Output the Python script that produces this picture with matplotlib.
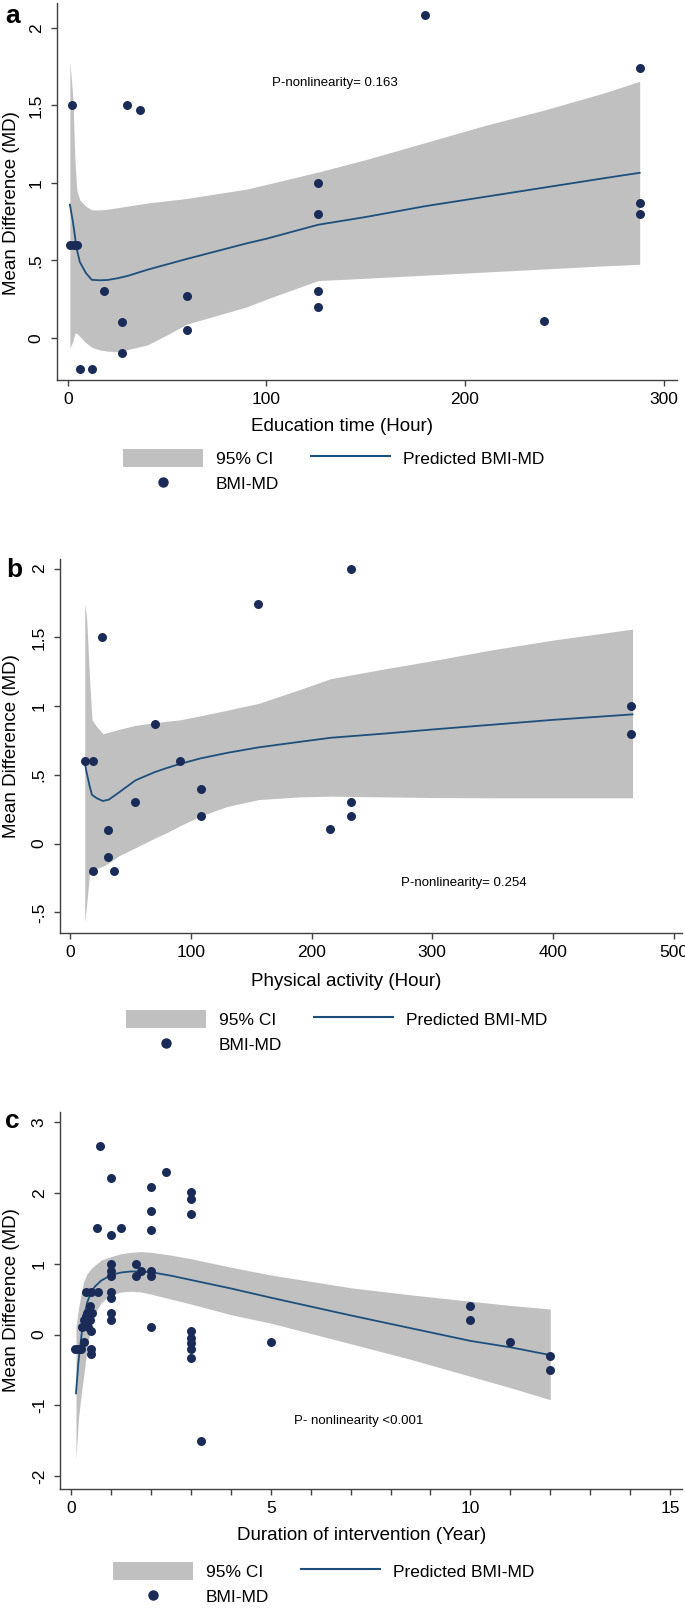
import matplotlib
matplotlib.use("Agg")
import matplotlib.pyplot as plt
from matplotlib.patches import Patch
from matplotlib.lines import Line2D

plt.rcParams['font.family'] = ['Liberation Sans', 'DejaVu Sans']

# ---------------- data ----------------
# Panel a: education time
a_x = [1, 3, 4.5, 2, 6, 12, 18, 27, 27, 30, 36.5, 60, 60, 126, 126, 126, 126, 180, 240, 288, 288, 288]
a_y = [0.6, 0.6, 0.6, 1.5, -0.2, -0.2, 0.3, 0.1, -0.1, 1.5, 1.47, 0.27, 0.05, 1.0, 0.8, 0.3, 0.2, 2.08, 0.11, 1.74, 0.87, 0.8]
a_cx = [1, 2.5, 3.5, 4.5, 6, 9, 12, 16, 20, 25, 30, 40, 50, 60, 90, 100, 126, 150, 180, 210, 240, 270, 288]
a_pred = [0.86, 0.75, 0.66, 0.57, 0.49, 0.42, 0.375, 0.372, 0.374, 0.385, 0.40, 0.44, 0.475, 0.51, 0.61, 0.64, 0.73, 0.78, 0.85, 0.91, 0.97, 1.03, 1.065]
a_hi = [1.78, 1.55, 1.15, 0.95, 0.89, 0.85, 0.826, 0.826, 0.83, 0.84, 0.85, 0.87, 0.885, 0.90, 0.96, 0.99, 1.07, 1.15, 1.26, 1.37, 1.47, 1.58, 1.655]
a_lo = [-0.066, -0.02, 0.03, 0.03, 0.01, -0.03, -0.06, -0.077, -0.085, -0.088, -0.075, -0.045, 0.02, 0.09, 0.20, 0.25, 0.37, 0.385, 0.405, 0.425, 0.445, 0.465, 0.475]
a_yticks = [0, 0.5, 1, 1.5, 2]
a_ylabels = ['0', '.5', '1', '1.5', '2']
a_xticks = [0, 100, 200, 300]

# Panel b: physical activity
b_x = [12, 19, 26.5, 19, 31.5, 31.5, 36, 54, 70, 91, 108, 108, 156, 215, 233, 233, 233, 465, 465]
b_y = [0.6, 0.6, 1.5, -0.2, 0.1, -0.1, -0.2, 0.3, 0.87, 0.6, 0.4, 0.2, 1.74, 0.11, 2.0, 0.3, 0.2, 1.0, 0.8]
b_cx = [12, 13.5, 16, 18, 22, 27, 32, 40, 54, 70, 80, 91, 108, 130, 156, 190, 216, 260, 300, 350, 400, 466]
b_pred = [0.59, 0.52, 0.42, 0.355, 0.33, 0.31, 0.32, 0.37, 0.46, 0.52, 0.55, 0.58, 0.62, 0.66, 0.70, 0.74, 0.77, 0.80, 0.83, 0.865, 0.90, 0.94]
b_hi = [1.74, 1.65, 1.20, 0.90, 0.85, 0.80, 0.81, 0.83, 0.86, 0.88, 0.89, 0.90, 0.93, 0.97, 1.02, 1.12, 1.20, 1.27, 1.33, 1.41, 1.48, 1.56]
b_lo = [-0.57, -0.45, -0.22, -0.19, -0.18, -0.165, -0.14, -0.09, -0.03, 0.04, 0.08, 0.13, 0.20, 0.27, 0.32, 0.34, 0.345, 0.34, 0.335, 0.333, 0.333, 0.333]
b_yticks = [-0.5, 0, 0.5, 1, 1.5, 2]
b_ylabels = ['-.5', '0', '.5', '1', '1.5', '2']
b_xticks = [0, 100, 200, 300, 400, 500]

# Panel c: duration of intervention
c_x = [0.1, 0.17, 0.25, 0.33, 0.28, 0.43, 0.31, 0.47, 0.39, 0.52, 0.36, 0.49, 0.49, 0.49, 0.475,
       0.38, 0.5, 0.67, 0.65, 0.73, 0.99, 0.99, 1.25,
       1.0, 1.0, 1.0, 1.0, 1.0, 1.0, 1.0,
       1.63, 1.63, 1.75,
       2.0, 2.0, 2.0, 2.0, 2.0, 2.0,
       2.38,
       3.0, 3.0, 3.0, 3.0, 3.0, 3.0, 3.0, 3.0,
       3.24, 5.0, 10.0, 10.0, 11.0, 12.0, 12.0]
c_y = [-0.2, -0.2, -0.2, -0.1, 0.11, 0.11, 0.21, 0.21, 0.30, 0.30, 0.26, 0.05, -0.2, -0.27, 0.4,
       0.6, 0.6, 0.6, 1.51, 2.66, 2.21, 1.40, 1.51,
       1.0, 0.89, 0.82, 0.6, 0.51, 0.31, 0.21,
       1.0, 0.82, 0.9,
       2.08, 1.75, 1.48, 0.9, 0.82, 0.11,
       2.30,
       2.01, 1.91, 1.70, 0.05, -0.05, -0.12, -0.2, -0.33,
       -1.5, -0.1, 0.4, 0.2, -0.1, -0.3, -0.5]
c_cx = [0.12, 0.18, 0.25, 0.31, 0.4, 0.5, 0.6, 0.75, 1.0, 1.25, 1.5, 1.75, 2.0, 2.5, 3.0, 4.0, 5.0, 7.0, 8.5, 10.0, 11.0, 12.0]
c_pred = [-0.83, -0.4, -0.05, 0.22, 0.45, 0.6, 0.68, 0.76, 0.84, 0.875, 0.89, 0.89, 0.88, 0.83, 0.77, 0.65, 0.52, 0.27, 0.09, -0.09, -0.18, -0.29]
c_hi = [0.1, 0.35, 0.58, 0.74, 0.86, 0.93, 0.98, 1.05, 1.10, 1.14, 1.16, 1.17, 1.16, 1.12, 1.07, 0.95, 0.84, 0.66, 0.56, 0.47, 0.41, 0.36]
c_lo = [-1.76, -1.2, -0.85, -0.6, -0.2, 0.15, 0.3, 0.45, 0.56, 0.60, 0.61, 0.60, 0.57, 0.50, 0.43, 0.28, 0.16, -0.13, -0.35, -0.59, -0.75, -0.92]
c_yticks = [-2, -1, 0, 1, 2, 3]
c_ylabels = ['-2', '-1', '0', '1', '2', '3']
c_xticks = [0, 5, 10, 15]
c_minor = [1, 2, 3, 4, 6, 7, 8, 9, 11, 12, 13, 14]

# ---------------- styling ----------------
W, H = 685, 1613
BAND = '#c0c0c0'
LINE = '#1d4f7c'
DOT = '#1a2b57'
SPINE = '#404040'

fig = plt.figure(figsize=(W / 100, H / 100), dpi=100)


def make_axes(left, right, top, bottom):
    return fig.add_axes([left / W, 1 - bottom / H, (right - left) / W, (bottom - top) / H])


def style(ax, xticks, yticks, ylabels, xlim, ylim):
    for s in ['top', 'right']:
        ax.spines[s].set_visible(False)
    for s in ['left', 'bottom']:
        ax.spines[s].set_color(SPINE)
        ax.spines[s].set_linewidth(1.0)
    ax.set_xlim(*xlim)
    ax.set_ylim(*ylim)
    ax.set_xticks(xticks)
    ax.set_yticks(yticks)
    ax.set_yticklabels(ylabels)
    ax.tick_params(axis='both', colors=SPINE, labelcolor='black', length=4.5, width=1.0,
                   labelsize=12.5)
    ax.tick_params(axis='x', pad=4)
    ax.tick_params(axis='y', pad=5, labelrotation=90)
    for lbl in ax.get_yticklabels():
        lbl.set_verticalalignment('center')


def draw(ax, px, py, cx, pred, lo, hi):
    ax.fill_between(cx, lo, hi, color=BAND, lw=0, zorder=1)
    ax.plot(cx, pred, color=LINE, lw=1.3, zorder=2)
    ax.scatter(px, py, s=42, color=DOT, zorder=3, linewidths=0)


def legend(ax, x, y):
    h_ci = Patch(facecolor=BAND, edgecolor='none')
    h_dot = Line2D([], [], ls='none', marker='o', markersize=6.5, color=DOT)
    h_line = Line2D([], [], color=LINE, lw=1.5)
    ax.legend([h_ci, h_dot, h_line], ['95% CI', 'BMI-MD', 'Predicted BMI-MD'],
              ncol=2, loc='upper left', bbox_to_anchor=(x / W, 1 - y / H),
              bbox_transform=fig.transFigure, frameon=False, fontsize=12.5,
              borderpad=0, borderaxespad=0, handlelength=4.6, handleheight=1.2,
              handletextpad=0.75, columnspacing=1.8, labelspacing=0.43)


# Panel a
axa = make_axes(57, 677, 3, 380)
draw(axa, a_x, a_y, a_cx, a_pred, a_lo, a_hi)
style(axa, a_xticks, a_yticks, a_ylabels, (-5.5, 306.8), (-0.271, 2.16))
axa.set_xlabel('Education time (Hour)', fontsize=13.5)
axa.xaxis.set_label_coords(0.46, -0.10)
axa.set_ylabel('Mean Difference (MD)', fontsize=13.5)
axa.yaxis.set_label_coords(-0.06, 0.47)
axa.text(103, 1.645, 'P-nonlinearity= 0.163', fontsize=9.5, va='center', ha='left')
legend(axa, 123, 449)
fig.text(5 / W, 1 - 23 / H, 'a', fontsize=19, fontweight='bold', va='baseline')

# Panel b
axb = make_axes(60, 682, 559, 933)
draw(axb, b_x, b_y, b_cx, b_pred, b_lo, b_hi)
style(axb, b_xticks, b_yticks, b_ylabels, (-8.5, 507), (-0.65, 2.07))
axb.set_xlabel('Physical activity (Hour)', fontsize=13.5)
axb.xaxis.set_label_coords(0.4606, -0.107)
axb.set_ylabel('Mean Difference (MD)', fontsize=13.5)
axb.yaxis.set_label_coords(-0.065, 0.5)
axb.text(274, -0.284, 'P-nonlinearity= 0.254', fontsize=9.5, va='center', ha='left')
legend(axb, 126, 1010)
fig.text(6 / W, 1 - 577 / H, 'b', fontsize=19, fontweight='bold', va='baseline')

# Panel c
axc = make_axes(60, 682, 1112, 1489)
draw(axc, c_x, c_y, c_cx, c_pred, c_lo, c_hi)
style(axc, c_xticks, c_yticks, c_ylabels, (-0.28, 15.3), (-2.18, 3.14))
axc.set_xticks(c_minor, minor=True)
axc.tick_params(axis='x', which='minor', length=4.5, width=1.0, colors=SPINE)
axc.set_xlabel('Duration of intervention (Year)', fontsize=13.5)
axc.xaxis.set_label_coords(0.4855, -0.1008)
axc.set_ylabel('Mean Difference (MD)', fontsize=13.5)
axc.yaxis.set_label_coords(-0.065, 0.5)
axc.text(5.57, -1.225, 'P- nonlinearity <0.001', fontsize=9.5, va='center', ha='left')
legend(axc, 113, 1562)
fig.text(5 / W, 1 - 1128 / H, 'c', fontsize=19, fontweight='bold', va='baseline')

fig.savefig('out.png', dpi=100, facecolor='white')
